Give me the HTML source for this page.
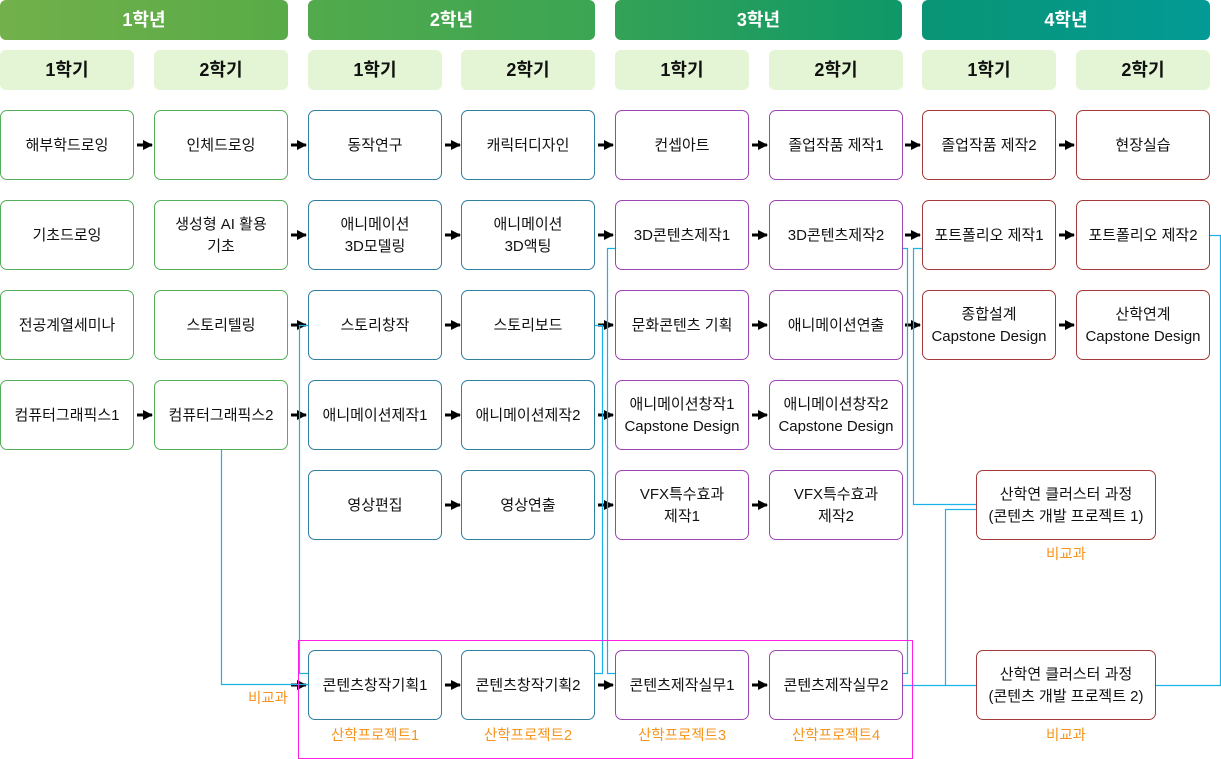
<!DOCTYPE html>
<html><head><meta charset="utf-8"><style>
body{margin:0;width:1221px;height:759px;position:relative;background:#fff;font-family:"Liberation Sans","Noto Sans CJK KR",sans-serif;overflow:hidden}
.h{position:absolute;top:0;height:40px;border-radius:6px;color:#fff;font-weight:bold;font-size:18px;line-height:40px;text-align:center}
.s{position:absolute;top:50px;height:40px;width:134px;border-radius:6px;background:#e3f5d4;color:#111;font-weight:bold;font-size:18px;line-height:40px;text-align:center}
.b{position:absolute;width:132px;height:68px;border:1px solid;border-radius:7px;display:flex;align-items:center;justify-content:center;text-align:center;font-size:15px;line-height:22px;color:#111;background:#fff;padding-top:2px;box-sizing:content-box}
.b{height:66px}
.g{border-color:#55ae5a}.u{border-color:#2f7f9e}.p{border-color:#9b45b2}.r{border-color:#a33a3a}
.o{position:absolute;color:#f7941d;font-size:14.5px;text-align:center}
</style></head><body>
<div class="h" style="left:0;width:288px;background:linear-gradient(90deg,#72b04a,#58ab48)">1학년</div>
<div class="h" style="left:308px;width:287px;background:linear-gradient(90deg,#52aa4c,#3ba553)">2학년</div>
<div class="h" style="left:615px;width:287px;background:linear-gradient(90deg,#34a257,#0e9868)">3학년</div>
<div class="h" style="left:922px;width:288px;background:linear-gradient(90deg,#099574,#039a96)">4학년</div>
<div class="s" style="left:0">1학기</div><div class="s" style="left:154px">2학기</div>
<div class="s" style="left:308px">1학기</div><div class="s" style="left:461px">2학기</div>
<div class="s" style="left:615px">1학기</div><div class="s" style="left:769px">2학기</div>
<div class="s" style="left:922px">1학기</div><div class="s" style="left:1076px">2학기</div>

<svg style="position:absolute;left:0;top:0" width="1221" height="759">
<defs><marker id="a" markerWidth="10" markerHeight="10" refX="9" refY="5" orient="auto" markerUnits="userSpaceOnUse"><path d="M0,0L10,5L0,10z" fill="#000"/></marker></defs>
<g stroke="#000" stroke-width="3" marker-end="url(#a)">
<line x1="137" y1="145" x2="152" y2="145"/><line x1="291" y1="145" x2="306" y2="145"/><line x1="445" y1="145" x2="460" y2="145"/><line x1="598" y1="145" x2="613" y2="145"/><line x1="752" y1="145" x2="767" y2="145"/><line x1="905" y1="145" x2="920" y2="145"/><line x1="1059" y1="145" x2="1074" y2="145"/>
<line x1="291" y1="235" x2="306" y2="235"/><line x1="445" y1="235" x2="460" y2="235"/><line x1="598" y1="235" x2="613" y2="235"/><line x1="752" y1="235" x2="767" y2="235"/><line x1="905" y1="235" x2="920" y2="235"/><line x1="1059" y1="235" x2="1074" y2="235"/>
<line x1="291" y1="325" x2="306" y2="325"/><line x1="445" y1="325" x2="460" y2="325"/><line x1="598" y1="325" x2="613" y2="325"/><line x1="752" y1="325" x2="767" y2="325"/><line x1="905" y1="325" x2="920" y2="325"/><line x1="1059" y1="325" x2="1074" y2="325"/>
<line x1="137" y1="415" x2="152" y2="415"/><line x1="291" y1="415" x2="306" y2="415"/><line x1="445" y1="415" x2="460" y2="415"/><line x1="598" y1="415" x2="613" y2="415"/><line x1="752" y1="415" x2="767" y2="415"/>
<line x1="445" y1="505" x2="460" y2="505"/><line x1="598" y1="505" x2="613" y2="505"/><line x1="752" y1="505" x2="767" y2="505"/>
<line x1="291" y1="685" x2="306" y2="685"/><line x1="445" y1="685" x2="460" y2="685"/><line x1="598" y1="685" x2="613" y2="685"/><line x1="752" y1="685" x2="767" y2="685"/>
</g>
<g stroke="#1ab2ea" stroke-width="1.2" fill="none">
<polyline points="221.5,450 221.5,684.5 308,684.5"/>
<polyline points="308,325.5 299.5,325.5 299.5,673.5 308,673.5"/>
<polyline points="595,325.5 602.5,325.5 602.5,673.5 595,673.5"/>
<polyline points="615,248.5 607.5,248.5 607.5,673.5 615,673.5"/>
<polyline points="902,248.5 907.5,248.5 907.5,673.5 902,673.5"/>
<polyline points="922,248.5 913.5,248.5 913.5,504.5 976,504.5"/>
<polyline points="976,509.5 945.5,509.5 945.5,685.5"/>
<line x1="902" y1="685.5" x2="976" y2="685.5"/>
<polyline points="1209,235.5 1220.5,235.5 1220.5,685.5 1156,685.5"/>
</g>
<rect x="298.5" y="640.5" width="614" height="118" fill="none" stroke="#ff1ee8" stroke-width="1"/>
</svg>

<div class="b g" style="left:0;top:110px">해부학드로잉</div>
<div class="b g" style="left:154px;top:110px">인체드로잉</div>
<div class="b u" style="left:308px;top:110px">동작연구</div>
<div class="b u" style="left:461px;top:110px">캐릭터디자인</div>
<div class="b p" style="left:615px;top:110px">컨셉아트</div>
<div class="b p" style="left:769px;top:110px">졸업작품 제작1</div>
<div class="b r" style="left:922px;top:110px">졸업작품 제작2</div>
<div class="b r" style="left:1076px;top:110px">현장실습</div>

<div class="b g" style="left:0;top:200px">기초드로잉</div>
<div class="b g" style="left:154px;top:200px">생성형 AI 활용<br>기초</div>
<div class="b u" style="left:308px;top:200px">애니메이션<br>3D모델링</div>
<div class="b u" style="left:461px;top:200px">애니메이션<br>3D액팅</div>
<div class="b p" style="left:615px;top:200px">3D콘텐츠제작1</div>
<div class="b p" style="left:769px;top:200px">3D콘텐츠제작2</div>
<div class="b r" style="left:922px;top:200px">포트폴리오 제작1</div>
<div class="b r" style="left:1076px;top:200px">포트폴리오 제작2</div>

<div class="b g" style="left:0;top:290px">전공계열세미나</div>
<div class="b g" style="left:154px;top:290px">스토리텔링</div>
<div class="b u" style="left:308px;top:290px">스토리창작</div>
<div class="b u" style="left:461px;top:290px">스토리보드</div>
<div class="b p" style="left:615px;top:290px">문화콘텐츠 기획</div>
<div class="b p" style="left:769px;top:290px">애니메이션연출</div>
<div class="b r" style="left:922px;top:290px">종합설계<br>Capstone Design</div>
<div class="b r" style="left:1076px;top:290px">산학연계<br>Capstone Design</div>

<div class="b g" style="left:0;top:380px">컴퓨터그래픽스1</div>
<div class="b g" style="left:154px;top:380px">컴퓨터그래픽스2</div>
<div class="b u" style="left:308px;top:380px">애니메이션제작1</div>
<div class="b u" style="left:461px;top:380px">애니메이션제작2</div>
<div class="b p" style="left:615px;top:380px">애니메이션창작1<br>Capstone Design</div>
<div class="b p" style="left:769px;top:380px">애니메이션창작2<br>Capstone Design</div>

<div class="b u" style="left:308px;top:470px">영상편집</div>
<div class="b u" style="left:461px;top:470px">영상연출</div>
<div class="b p" style="left:615px;top:470px">VFX특수효과<br>제작1</div>
<div class="b p" style="left:769px;top:470px">VFX특수효과<br>제작2</div>
<div class="b r" style="left:976px;top:470px;width:178px">산학연 클러스터 과정<br>(콘텐츠 개발 프로젝트 1)</div>
<div class="o" style="left:976px;top:543px;width:180px">비교과</div>

<div class="b u" style="left:308px;top:650px">콘텐츠창작기획1</div>
<div class="b u" style="left:461px;top:650px">콘텐츠창작기획2</div>
<div class="b p" style="left:615px;top:650px">콘텐츠제작실무1</div>
<div class="b p" style="left:769px;top:650px">콘텐츠제작실무2</div>
<div class="b r" style="left:976px;top:650px;width:178px">산학연 클러스터 과정<br>(콘텐츠 개발 프로젝트 2)</div>
<div class="o" style="left:976px;top:724px;width:180px">비교과</div>
<div class="o" style="left:240px;top:687px;width:56px">비교과</div>
<div class="o" style="left:308px;top:724px;width:134px">산학프로젝트1</div>
<div class="o" style="left:461px;top:724px;width:134px">산학프로젝트2</div>
<div class="o" style="left:615px;top:724px;width:134px">산학프로젝트3</div>
<div class="o" style="left:769px;top:724px;width:134px">산학프로젝트4</div>
</body></html>
